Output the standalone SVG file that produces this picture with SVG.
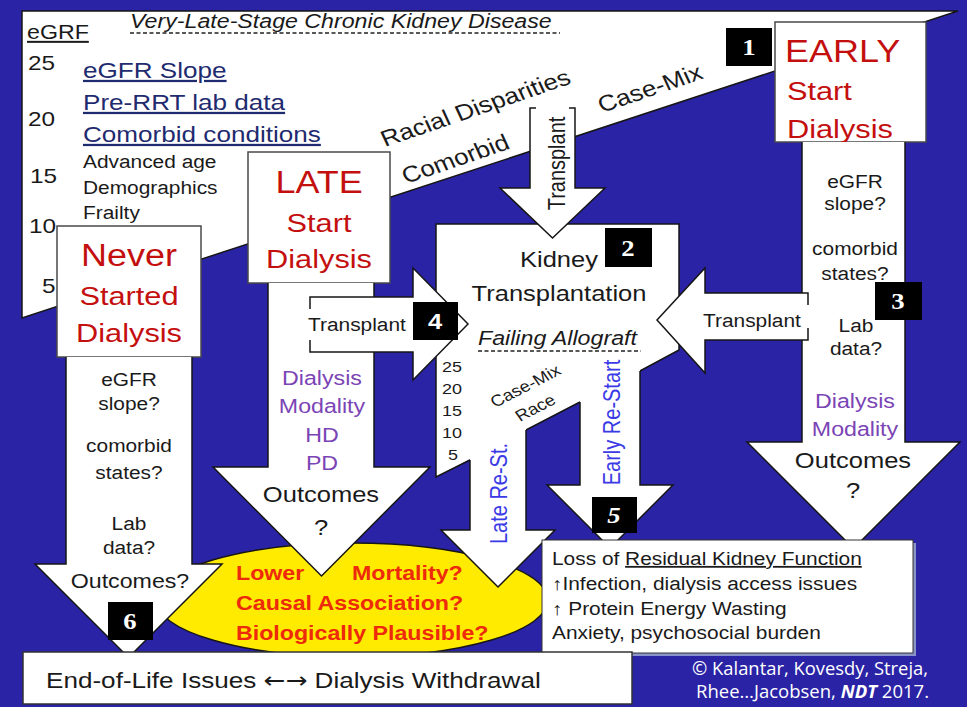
<svg xmlns="http://www.w3.org/2000/svg" width="967" height="707" viewBox="0 0 967 707">
<defs>
<style>
text{font-family:"Liberation Sans",Arial,sans-serif;fill:#1a1a1a}
.m{text-anchor:middle}
.i{font-style:italic}
.u{text-decoration:underline}
.red{fill:#c40f0f}
.navy{fill:#1f2b6f}
.pur{fill:#7b44b5}
.blu{fill:#3b3be6}
.or{fill:#ee2a0c;font-weight:bold;font-size:20px}
.f15{font-size:15.5px}.f16{font-size:16px}.f18{font-size:18px}.f20{font-size:20px}.f21{font-size:21px}
.f22{font-size:22px}.f225{font-size:22.5px}.f26{font-size:26.5px}.f31{font-size:31px}
.arw{fill:#fff;stroke:#161616;stroke-width:1.5}
.sh{fill:#fff;stroke:none}
.ol{fill:none;stroke:#161616;stroke-width:1.5}
.box{fill:#fff;stroke:#4a4a4a;stroke-width:1.5}
.bd{fill:#000}
.dg{font-family:"Liberation Serif","Times New Roman",serif;font-weight:bold;font-size:23px;fill:#fff;text-anchor:middle}
.dgs{font-family:"Liberation Sans",Arial,sans-serif;font-weight:bold;font-size:22px;fill:#fff;text-anchor:middle}
.dash{stroke:#222;stroke-width:1.3;stroke-dasharray:4 2.5}
.cp{font-family:"Open Sans","Liberation Sans",sans-serif;font-size:18px;fill:#fff}
.ar{font-family:"DejaVu Sans",sans-serif}
</style>
</defs>
<rect width="967" height="707" fill="#2a23a6"/>

<g id="ckd-wedge">
<polygon points="22,11 958,11 22,318" fill="#fff" stroke="#161616" stroke-width="1.5"/>
<text class="f20 i" transform="translate(130 28) scale(1.16 1)">Very-Late-Stage Chronic Kidney Disease</text>
<line x1="130" y1="33" x2="560" y2="33" class="dash"/>
<text class="f20 u" transform="translate(27 39) scale(1.16 1)">eGRF</text>
<text class="f21" transform="translate(28 70) scale(1.16 1)">25</text>
<text class="f21" transform="translate(28 126) scale(1.16 1)">20</text>
<text class="f21" transform="translate(30 183) scale(1.16 1)">15</text>
<text class="f21" transform="translate(29 233) scale(1.16 1)">10</text>
<text class="f21" transform="translate(42 293) scale(1.16 1)">5</text>
<text class="f225 navy u" transform="translate(83 78) scale(1.16 1)">eGFR Slope</text>
<text class="f225 navy u" transform="translate(83 110) scale(1.16 1)">Pre-RRT lab data</text>
<text class="f225 navy u" transform="translate(83 142) scale(1.16 1)">Comorbid conditions</text>
<text class="f18" transform="translate(83 168) scale(1.16 1)">Advanced age</text>
<text class="f18" transform="translate(83 194) scale(1.16 1)">Demographics</text>
<text class="f18" transform="translate(83 219) scale(1.16 1)">Frailty</text>
<text class="f225" transform="translate(385 147) scale(1.16 1) rotate(-21.6)">Racial Disparities</text>
<text class="f225" transform="translate(406 184) scale(1.16 1) rotate(-21.6)">Comorbid</text>
<text class="f225" transform="translate(602 113) scale(1.16 1) rotate(-21.6)">Case-Mix</text>
</g>

<g id="outcome-ellipse">
<ellipse cx="352" cy="600" rx="196" ry="57" fill="#ffeb00" stroke="#161616" stroke-width="1.5"/>
</g>

<g id="never-started">
<rect x="57" y="226" width="144" height="131" class="box"/>
<text class="f31 red m" transform="translate(129 266) scale(1.16 1)">Never</text>
<text class="f26 red m" transform="translate(129 305) scale(1.16 1)">Started</text>
<text class="f26 red m" transform="translate(129 342) scale(1.16 1)">Dialysis</text>
</g>

<g id="late-start">
<rect x="248" y="152" width="142" height="131" class="box"/>
<text class="f31 red m" transform="translate(319 193) scale(1.16 1)">LATE</text>
<text class="f26 red m" transform="translate(319 232) scale(1.16 1)">Start</text>
<text class="f26 red m" transform="translate(319 268) scale(1.16 1)">Dialysis</text>
</g>

<g id="early-start">
<rect x="775" y="22" width="151" height="120" class="box"/>
<text class="f31 red" transform="translate(785 62) scale(1.16 1)">EARLY</text>
<text class="f26 red" transform="translate(787 100) scale(1.16 1)">Start</text>
<text class="f26 red" transform="translate(787 138) scale(1.16 1)">Dialysis</text>
</g>

<g id="kidney-transplantation">
<path class="sh" d="M436,224 H679 V350 L436,477 Z"/>
<path class="ol" d="M640,371 L679,350 V224 H436 V477 L470,460 M526,430 L580,402"/>
<text class="f22 m" transform="translate(559 267) scale(1.16 1)">Kidney</text>
<text class="f22 m" transform="translate(559 301) scale(1.16 1)">Transplantation</text>
<text class="f20 i" transform="translate(478 345) scale(1.16 1)">Failing Allograft</text>
<line x1="478" y1="351" x2="641" y2="351" class="dash"/>
<text class="f15" transform="translate(442 372) scale(1.16 1)">25</text>
<text class="f15" transform="translate(442 394) scale(1.16 1)">20</text>
<text class="f15" transform="translate(442 416) scale(1.16 1)">15</text>
<text class="f15" transform="translate(442 438) scale(1.16 1)">10</text>
<text class="f15" transform="translate(448 460) scale(1.16 1)">5</text>
<text class="f16" transform="translate(495 408) scale(1.16 1) rotate(-30.8)">Case-Mix</text>
<text class="f16" transform="translate(520 422) scale(1.16 1) rotate(-30.8)">Race</text>
</g>

<g id="connectors">
<path class="arw" d="M66,357 V564 H35 L128.5,657.5 L222,564 H192 V357"/>
<text class="f18 m" transform="translate(129 386) scale(1.16 1)">eGFR</text>
<text class="f18 m" transform="translate(129 410) scale(1.16 1)">slope?</text>
<text class="f18 m" transform="translate(129 452) scale(1.16 1)">comorbid</text>
<text class="f18 m" transform="translate(129 479) scale(1.16 1)">states?</text>
<text class="f18 m" transform="translate(129 530) scale(1.16 1)">Lab</text>
<text class="f18 m" transform="translate(129 554) scale(1.16 1)">data?</text>
<text class="f20 m" transform="translate(130 588) scale(1.16 1)">Outcomes?</text>
<path class="arw" d="M268,283 V467 H213 L321.5,576 L430,467 H374 V283"/>
<text class="f20 pur m" transform="translate(322 385) scale(1.16 1)">Dialysis</text>
<text class="f20 pur m" transform="translate(322 413) scale(1.16 1)">Modality</text>
<text class="f20 pur m" transform="translate(322 442) scale(1.16 1)">HD</text>
<text class="f20 pur m" transform="translate(322 470) scale(1.16 1)">PD</text>
<text class="f22 m" transform="translate(321 502) scale(1.16 1)">Outcomes</text>
<text class="f22 m" transform="translate(321 535) scale(1.16 1)">?</text>
<path class="arw" d="M802,142 V442 H747 L853.5,548.5 L960,442 H905 V142"/>
<text class="f18 m" transform="translate(855 188) scale(1.16 1)">eGFR</text>
<text class="f18 m" transform="translate(855 210) scale(1.16 1)">slope?</text>
<text class="f18 m" transform="translate(855 255) scale(1.16 1)">comorbid</text>
<text class="f18 m" transform="translate(855 280) scale(1.16 1)">states?</text>
<text class="f18 m" transform="translate(856 332) scale(1.16 1)">Lab</text>
<text class="f18 m" transform="translate(856 355) scale(1.16 1)">data?</text>
<text class="f20 pur m" transform="translate(855 408) scale(1.16 1)">Dialysis</text>
<text class="f20 pur m" transform="translate(855 436) scale(1.16 1)">Modality</text>
<text class="f22 m" transform="translate(853 468) scale(1.16 1)">Outcomes</text>
<text class="f22 m" transform="translate(853 498) scale(1.16 1)">?</text>
<path class="sh" d="M470,455 V530 H441 L498,587 L555,530 H526 V425 Z"/>
<path class="ol" d="M470,460 V530 H441 L498,587 L555,530 H526 V430"/>
<text class="f20 blu m" transform="translate(507 493.5) scale(1.16 1) rotate(-90)">Late Re-St.</text>
<path class="sh" d="M580,360 V485 H547 L610,548 L673,485 H640 V360 Z"/>
<path class="ol" d="M580,402 V485 H547 L610,548 L673,485 H640 V371"/>
<text class="f20 blu m" transform="translate(620 422.5) scale(1.16 1) rotate(-90)">Early Re-Start</text>
<path class="sh" d="M530,108 V188 H500 L552.5,238 L605,188 H575 V108 Z"/>
<path class="ol" d="M536,108 H530 V188 H500 L552.5,238 L605,188 H575 V108 H569"/>
<text class="f20 m" transform="translate(565 163.5) scale(1.16 1) rotate(-90)">Transplant</text>
<path class="sh" d="M310,297 H413 V268 L468,324 L413,380 V352 H310 Z"/>
<path class="ol" d="M310,309 V297 H413 V268 L468,324 L413,380 V352 H310 V340"/>
<text class="f18" transform="translate(308 331) scale(1.16 1)">Transplant</text>
<path class="sh" d="M808,293 H705 V268 L657,320 L705,373 V340 H808 Z"/>
<path class="ol" d="M808,305 V293 H705 V268 L657,320 L705,373 V340 H808 V328"/>
<text class="f18" transform="translate(703 327) scale(1.16 1)">Transplant</text>
</g>

<g id="ellipse-text">
<text class="or" transform="translate(236 580) scale(1.16 1)">Lower</text>
<text class="or" transform="translate(352 580) scale(1.16 1)">Mortality?</text>
<text class="or" transform="translate(236 610) scale(1.16 1)">Causal Association?</text>
<text class="or" transform="translate(236 640) scale(1.16 1)">Biologically Plausible?</text>
</g>

<g id="loss-rkf">
<rect x="545" y="543" width="371" height="113" fill="#8a93c8"/>
<rect x="542" y="540" width="371" height="113" fill="#fff" stroke="#333" stroke-width="1"/>
<text class="f18" transform="translate(552 565) scale(1.16 1)">Loss of <tspan class="u">Residual Kidney Function</tspan></text>
<text class="f18" transform="translate(552 590) scale(1.16 1)">↑Infection, dialysis access issues</text>
<text class="f18" transform="translate(552 615) scale(1.16 1)">↑ Protein Energy Wasting</text>
<text class="f18" transform="translate(552 639) scale(1.16 1)">Anxiety, psychosocial burden</text>
</g>

<g id="end-of-life">
<rect x="23" y="652" width="609" height="52" fill="#fff" stroke="#333" stroke-width="1.5"/>
<text class="f225" transform="translate(46 688) scale(1.16 1)">End-of-Life Issues <tspan class="ar">←→</tspan> Dialysis Withdrawal</text>
</g>

<g id="badges">
<g id="badge-1"><rect x="726" y="28" width="46" height="38" class="bd"/><text class="dg" transform="translate(749 55) scale(1.16 1)">1</text></g>
<g id="badge-2"><rect x="605" y="228" width="47" height="39" class="bd"/><text class="dg" transform="translate(628 256) scale(1.16 1)">2</text></g>
<g id="badge-3"><rect x="875" y="282" width="47" height="38" class="bd"/><text class="dg" transform="translate(898 309) scale(1.16 1)">3</text></g>
<g id="badge-4"><rect x="413" y="302" width="45" height="38" class="bd"/><text class="dgs" transform="translate(435 329) scale(1.16 1)">4</text></g>
<g id="badge-5"><rect x="592" y="497" width="45" height="36" class="bd"/><text class="dg i" transform="translate(614 523) scale(1.16 1)">5</text></g>
<g id="badge-6"><rect x="108" y="602" width="45" height="38" class="bd"/><text class="dg" transform="translate(130 629) scale(1.16 1)">6</text></g>
</g>

<g id="credit">
<text class="cp" x="692" y="675" textLength="236" lengthAdjust="spacingAndGlyphs">© Kalantar, Kovesdy, Streja,</text>
<text class="cp" x="696" y="698" textLength="233" lengthAdjust="spacingAndGlyphs">Rhee…Jacobsen, <tspan font-weight="bold" font-style="italic">NDT</tspan> 2017.</text>
</g>
</svg>
